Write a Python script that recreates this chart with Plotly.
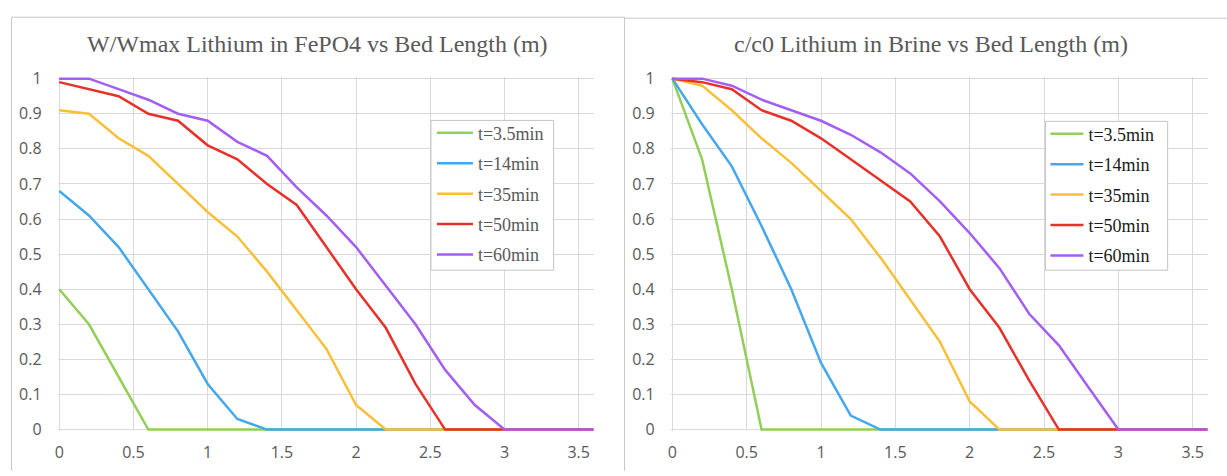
import plotly.graph_objects as go

# ---------------- data ----------------
bed_length = [0, 0.2, 0.4, 0.6, 0.8, 1.0, 1.2, 1.4, 1.6, 1.8, 2.0, 2.2, 2.4, 2.6, 2.8, 3.0, 3.2, 3.4, 3.6]
series_names = ["t=3.5min", "t=14min", "t=35min", "t=50min", "t=60min"]

# W/Wmax Lithium in FePO4
w_t3_5 = [0.40, 0.30, 0.15, 0, 0, 0, 0, 0, 0, 0, 0, 0, 0, 0, 0, 0, 0, 0, 0]
w_t14 = [0.68, 0.61, 0.52, 0.40, 0.28, 0.13, 0.03, 0, 0, 0, 0, 0, 0, 0, 0, 0, 0, 0, 0]
w_t35 = [0.91, 0.90, 0.83, 0.78, 0.70, 0.62, 0.55, 0.45, 0.34, 0.23, 0.07, 0, 0, 0, 0, 0, 0, 0, 0]
w_t50 = [0.99, 0.97, 0.95, 0.90, 0.88, 0.81, 0.77, 0.70, 0.64, 0.52, 0.40, 0.29, 0.13, 0, 0, 0, 0, 0, 0]
w_t60 = [1.0, 1.0, 0.97, 0.94, 0.90, 0.88, 0.82, 0.78, 0.69, 0.61, 0.52, 0.41, 0.30, 0.17, 0.07, 0, 0, 0, 0]

# c/c0 Lithium in Brine
c_t3_5 = [1.0, 0.77, 0.40, 0, 0, 0, 0, 0, 0, 0, 0, 0, 0, 0, 0, 0, 0, 0, 0]
c_t14 = [1.0, 0.87, 0.75, 0.58, 0.40, 0.19, 0.04, 0, 0, 0, 0, 0, 0, 0, 0, 0, 0, 0, 0]
c_t35 = [1.0, 0.98, 0.91, 0.83, 0.76, 0.68, 0.60, 0.49, 0.37, 0.25, 0.08, 0, 0, 0, 0, 0, 0, 0, 0]
c_t50 = [1.0, 0.99, 0.97, 0.91, 0.88, 0.83, 0.77, 0.71, 0.65, 0.55, 0.40, 0.29, 0.14, 0, 0, 0, 0, 0, 0]
c_t60 = [1.0, 1.0, 0.98, 0.94, 0.91, 0.88, 0.84, 0.79, 0.73, 0.65, 0.56, 0.46, 0.33, 0.24, 0.12, 0, 0, 0, 0]

x_tick_vals = [0, 0.5, 1, 1.5, 2, 2.5, 3, 3.5]
x_tick_text = ["0", "0.5", "1", "1.5", "2", "2.5", "3", "3.5"]
y_tick_vals = [0, 0.1, 0.2, 0.3, 0.4, 0.5, 0.6, 0.7, 0.8, 0.9, 1]
y_tick_text = ["0", "0.1", "0.2", "0.3", "0.4", "0.5", "0.6", "0.7", "0.8", "0.9", "1"]

titles = ["W/Wmax Lithium in FePO4 vs Bed Length (m)", "c/c0 Lithium in Brine vs Bed Length (m)"]
colors = ["#92cf57", "#45a8ec", "#f9bf38", "#e8312a", "#a45ef2"]

# ---------------- layout helpers ----------------
W, H = 1227, 476
def px(x):
    return x / W
def py(y):
    return 1 - y / H

fig = go.Figure()
left_series = [w_t3_5, w_t14, w_t35, w_t50, w_t60]
right_series = [c_t3_5, c_t14, c_t35, c_t50, c_t60]

for i, (vals, name, col) in enumerate(zip(left_series, series_names, colors)):
    fig.add_trace(go.Scatter(x=bed_length, y=vals, mode="lines", name=name,
                             line=dict(color=col, width=2.5), xaxis="x", yaxis="y",
                             legend="legend", legendgroup=f"L{i}", hoverinfo="skip"))
for i, (vals, name, col) in enumerate(zip(right_series, series_names, colors)):
    fig.add_trace(go.Scatter(x=bed_length, y=vals, mode="lines", name=name,
                             line=dict(color=col, width=2.5), xaxis="x2", yaxis="y2",
                             legend="legend2", legendgroup=f"R{i}", hoverinfo="skip"))

grid = "#d9d9d9"
tick_font = dict(family="Open Sans", size=16, color="#595959")
y_top, y_bot = 71.5, 437
unit_y = (y_bot - y_top)
pad_y = 0.005
x_unit_l = 148.7
x_unit_r = 148.9
pad_x = 0.01

def xaxis(dom):
    return dict(domain=dom, range=[-pad_x, 3.6], tickvals=x_tick_vals, ticktext=x_tick_text,
                showgrid=True, gridcolor=grid, gridwidth=1, zeroline=False, showline=False,
                ticks="outside", ticklen=6, tickcolor="rgba(0,0,0,0)", tickfont=tick_font,
                fixedrange=True)

def yaxis(anchor):
    return dict(domain=[py(y_bot + pad_y * unit_y), py(y_top - pad_y * unit_y)],
                range=[-pad_y, 1 + pad_y], tickvals=y_tick_vals, ticktext=y_tick_text,
                showgrid=True, gridcolor=grid, gridwidth=1, zeroline=False, showline=False,
                ticks="outside", ticklen=12, tickcolor="rgba(0,0,0,0)", tickfont=tick_font,
                anchor=anchor, fixedrange=True)

legend_common = dict(bgcolor="rgba(0,0,0,0)", borderwidth=0, xanchor="left", yanchor="top",
                     traceorder="grouped", tracegroupgap=4)

border = "#c8c8c8"
box_line = "#c4c4c4"
shapes = [
    dict(type="line", xref="paper", yref="paper", x0=px(8.5), x1=px(8.5), y0=py(7.5), y1=py(480), line=dict(color=border, width=1)),
    dict(type="line", xref="paper", yref="paper", x0=px(8.5), x1=px(623), y0=py(7.5), y1=py(7.5), line=dict(color=border, width=1)),
    dict(type="line", xref="paper", yref="paper", x0=px(623), x1=px(623), y0=py(7.5), y1=py(480), line=dict(color=border, width=1)),
    dict(type="line", xref="paper", yref="paper", x0=px(623), x1=px(1230), y0=py(8.5), y1=py(8.5), line=dict(color=border, width=1)),
    # legend boxes
    dict(type="rect", xref="paper", yref="paper", x0=px(429), x1=px(552), y0=py(271), y1=py(115),
         fillcolor="white", line=dict(color=box_line, width=1), layer="above"),
    dict(type="rect", xref="paper", yref="paper", x0=px(1045), x1=px(1167.5), y0=py(271), y1=py(116),
         fillcolor="white", line=dict(color=box_line, width=1), layer="above"),
]

annotations = [
    dict(text=titles[0], xref="paper", yref="paper", x=px(315.5), y=py(35), xanchor="center", yanchor="middle",
         showarrow=False, font=dict(family="Liberation Serif", size=24, color="#595959")),
    dict(text=titles[1], xref="paper", yref="paper", x=px(930), y=py(35), xanchor="center", yanchor="middle",
         showarrow=False, font=dict(family="Liberation Serif", size=24, color="#595959")),
]

fig.update_layout(
    width=W, height=H, margin=dict(l=0, r=0, t=0, b=0),
    paper_bgcolor="white", plot_bgcolor="white",
    xaxis=xaxis([px(56.4 - pad_x * x_unit_l), px(592)]),
    yaxis=yaxis("x"),
    xaxis2=xaxis([px(671 - pad_x * x_unit_r), px(1207.5)]),
    yaxis2=yaxis("x2"),
    legend=dict(x=px(430), y=py(109), itemwidth=36,
                font=dict(family="Liberation Serif", size=18, color="#595959"), **legend_common),
    legend2=dict(x=px(1045), y=py(110), itemwidth=33,
                 font=dict(family="Liberation Serif", size=18, color="#1a1a1a"), **legend_common),
    shapes=shapes, annotations=annotations, showlegend=True,
)

fig.write_html("out.html")
